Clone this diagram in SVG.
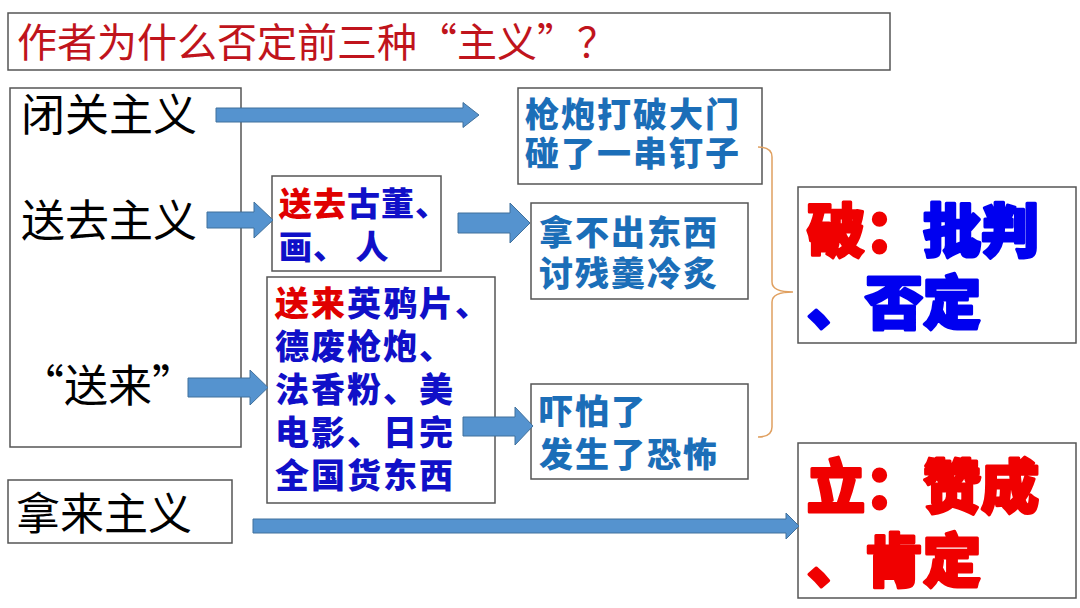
<svg xmlns="http://www.w3.org/2000/svg" width="1080" height="608" viewBox="0 0 1080 608">
<style>
.box{fill:#fff;stroke:#555;stroke-width:1.5}
.arr{fill:#5593CF;stroke:#41719C;stroke-width:1}
.cjk{font-family:"Noto Sans CJK SC","Noto Sans",sans-serif}
.big{font-size:44px;fill:#000}
.t33{font-size:33px;font-weight:900;letter-spacing:1px}
.t36{font-size:34px;font-weight:900;letter-spacing:2px}
.red{fill:#E00000}
.blue{fill:#1010C8}
.sb{fill:#1B6EB8}
.huge{font-size:58px;font-weight:900;stroke-width:3;stroke-linejoin:round}
.hr{fill:#F00000;stroke:#F00000}
.hb{fill:#0000F0;stroke:#0000F0}
</style>
<rect width="1080" height="608" fill="#fff"/>
<g id="title">
<rect class="box" x="8" y="13" width="882" height="57"/>
<text class="cjk" x="17" y="57" font-size="40" fill="#C0141C">作者为什么否定前三种“主义”？</text>
</g>
<g id="left">
<rect class="box" x="10" y="88" width="231" height="359"/>
<text class="cjk big" x="21" y="131">闭关主义</text>
<text class="cjk big" x="21" y="237">送去主义</text>
<text class="cjk big" x="20" y="402">“送来”</text>
</g>
<g id="nalai">
<rect class="box" x="8" y="480" width="224" height="63"/>
<text class="cjk big" x="16" y="530">拿来主义</text>
</g>
<g id="songqu">
<rect class="box" x="272" y="176" width="169" height="95"/>
<text class="cjk t33" x="279" y="216"><tspan class="red">送去</tspan><tspan class="blue">古董、</tspan></text>
<text class="cjk t33 blue" x="279" y="259">画、 人</text>
</g>
<g id="songlai">
<rect class="box" x="267" y="277" width="228" height="226"/>
<text class="cjk t36" x="275" y="316"><tspan class="red">送来</tspan><tspan class="blue">英鸦片、</tspan></text>
<text class="cjk t36 blue" x="275" y="359">德废枪炮、</text>
<text class="cjk t36 blue" x="275" y="402">法香粉、美</text>
<text class="cjk t36 blue" x="275" y="445">电影、日完</text>
<text class="cjk t36 blue" x="275" y="488">全国货东西</text>
</g>
<g id="qiangpao">
<rect class="box" x="518" y="88" width="244" height="96"/>
<text class="cjk t36 sb" x="525" y="127">枪炮打破大门</text>
<text class="cjk t36 sb" x="525" y="166">碰了一串钉子</text>
</g>
<g id="nabuchu">
<rect class="box" x="531" y="203" width="217" height="96"/>
<text class="cjk t36 sb" x="539" y="245">拿不出东西</text>
<text class="cjk t36 sb" x="539" y="286">讨残羹冷炙</text>
</g>
<g id="xiapa">
<rect class="box" x="531" y="384" width="217" height="95"/>
<text class="cjk t36 sb" x="539" y="424">吓怕了</text>
<text class="cjk t36 sb" x="539" y="467">发生了恐怖</text>
</g>
<g id="po">
<rect class="box" x="798" y="187" width="278" height="156"/>
<text class="cjk huge" x="807" y="252"><tspan class="hr">破：</tspan><tspan class="hb">批判</tspan></text>
<text class="cjk huge hb" x="807" y="324">、否定</text>
</g>
<g id="li">
<rect class="box" x="798" y="443" width="278" height="155"/>
<text class="cjk huge hr" x="807" y="508">立：赞成</text>
<text class="cjk huge hr" x="807" y="582">、肯定</text>
</g>
<g id="connectors">
<polygon class="arr" points="216,108 463,108 463,102.5 479,115 463,127.5 463,122 216,122"/>
<polygon class="arr" points="207,212 254,212 254,202 273,220 254,238 254,228 207,228"/>
<polygon class="arr" points="458,213 510,213 510,203 530,223 510,243 510,233 458,233"/>
<polygon class="arr" points="188,378 250,378 250,370 268,387.5 250,405 250,397 188,397"/>
<polygon class="arr" points="463,417 515,417 515,407 533,426 515,445 515,436 463,436"/>
<polygon class="arr" points="253,519 786,519 786,513 799,526 786,539 786,533 253,533"/>
<path d="M758,147 Q772,147 772,157 V282 Q772,292 793,292 Q772,292 772,302 V427 Q772,437 758,437" fill="none" stroke="#E0A060" stroke-width="1.5"/>
</g>
</svg>
